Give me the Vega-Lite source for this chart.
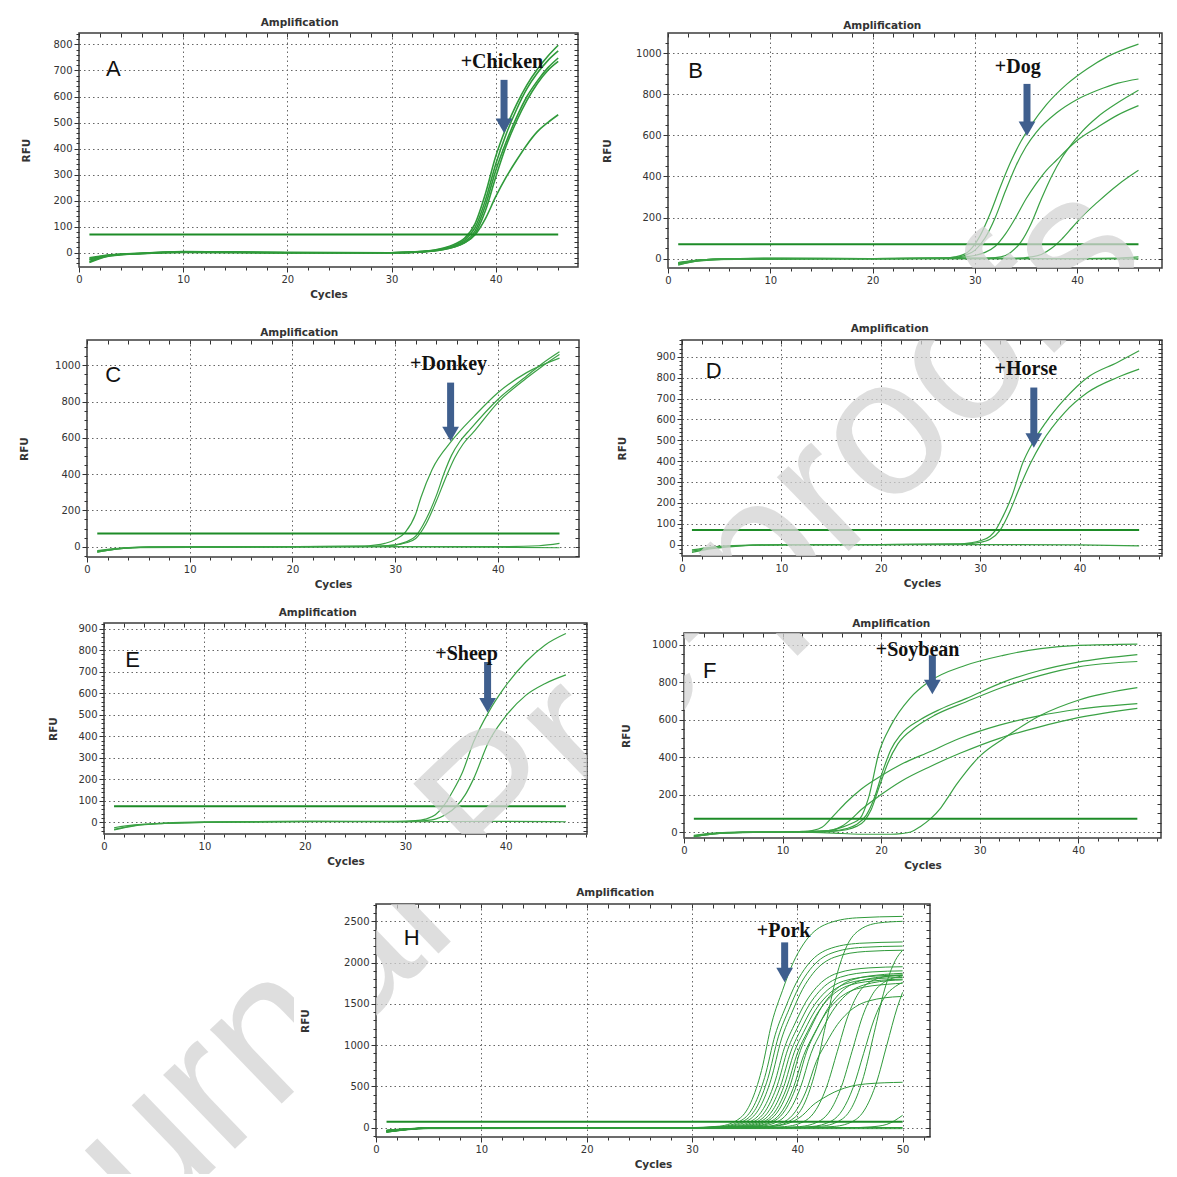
{
"$schema":"https://vega.github.io/schema/vega-lite/v6.json",
"padding":{"left":0,"top":16,"right":0,"bottom":0},
"background":"white",
"config":{
"view":{"stroke":"#3c3c3c","strokeWidth":1.5},
"axis":{"domain":false,"labelFont":"DejaVu Sans","labelFontSize":10,"labelColor":"#333","labelPadding":2,"titleFont":"DejaVu Sans","titleFontSize":10.5,"titleFontWeight":"bold","titleColor":"#333","tickColor":"#333","gridColor":"#666","gridDash":[1.5,3],"gridWidth":1,"labelOverlap":false,"labelFlush":false,"labelBound":false},
"axisY":{"minExtent":34,"maxExtent":34},
"axisX":{"titlePadding":5},
"title":{"font":"DejaVu Sans","fontSize":10.5,"fontWeight":"bold","color":"#333","offset":1,"frame":"bounds"}
},
"datasets":{
"A":[
{"c":"t","k":"t","x":1,"y":70},{"c":"t","k":"t","x":46,"y":70},
{"c":"a1","k":"s","x":1,"y":-35},{"c":"a1","k":"s","x":2,"y":-20},{"c":"a1","k":"s","x":4,"y":-8},{"c":"a1","k":"s","x":7,"y":-2},{"c":"a1","k":"s","x":10,"y":4},{"c":"a1","k":"s","x":15,"y":2},{"c":"a1","k":"s","x":20,"y":0},{"c":"a1","k":"s","x":25,"y":0},{"c":"a1","k":"s","x":30,"y":0},{"c":"a1","k":"s","x":33,"y":5},{"c":"a1","k":"s","x":35,"y":18},{"c":"a1","k":"s","x":36,"y":32},{"c":"a1","k":"s","x":37,"y":55},{"c":"a1","k":"s","x":38,"y":110},{"c":"a1","k":"s","x":39,"y":225},{"c":"a1","k":"s","x":40,"y":370},{"c":"a1","k":"s","x":41,"y":480},{"c":"a1","k":"s","x":42,"y":570},{"c":"a1","k":"s","x":43,"y":645},{"c":"a1","k":"s","x":44,"y":705},{"c":"a1","k":"s","x":45,"y":755},{"c":"a1","k":"s","x":46,"y":797},
{"c":"a2","k":"s","x":1,"y":-25},{"c":"a2","k":"s","x":2,"y":-15},{"c":"a2","k":"s","x":4,"y":-6},{"c":"a2","k":"s","x":7,"y":-1},{"c":"a2","k":"s","x":10,"y":3},{"c":"a2","k":"s","x":20,"y":1},{"c":"a2","k":"s","x":30,"y":0},{"c":"a2","k":"s","x":33,"y":4},{"c":"a2","k":"s","x":35,"y":16},{"c":"a2","k":"s","x":36,"y":28},{"c":"a2","k":"s","x":37,"y":48},{"c":"a2","k":"s","x":38,"y":95},{"c":"a2","k":"s","x":39,"y":200},{"c":"a2","k":"s","x":40,"y":340},{"c":"a2","k":"s","x":41,"y":455},{"c":"a2","k":"s","x":42,"y":550},{"c":"a2","k":"s","x":43,"y":630},{"c":"a2","k":"s","x":44,"y":690},{"c":"a2","k":"s","x":45,"y":738},{"c":"a2","k":"s","x":46,"y":775},
{"c":"a3","k":"s","x":1,"y":-20},{"c":"a3","k":"s","x":3,"y":-8},{"c":"a3","k":"s","x":6,"y":-2},{"c":"a3","k":"s","x":10,"y":2},{"c":"a3","k":"s","x":20,"y":0},{"c":"a3","k":"s","x":30,"y":0},{"c":"a3","k":"s","x":33,"y":4},{"c":"a3","k":"s","x":35,"y":14},{"c":"a3","k":"s","x":36,"y":25},{"c":"a3","k":"s","x":37,"y":42},{"c":"a3","k":"s","x":38,"y":82},{"c":"a3","k":"s","x":39,"y":180},{"c":"a3","k":"s","x":40,"y":315},{"c":"a3","k":"s","x":41,"y":425},{"c":"a3","k":"s","x":42,"y":520},{"c":"a3","k":"s","x":43,"y":600},{"c":"a3","k":"s","x":44,"y":660},{"c":"a3","k":"s","x":45,"y":710},{"c":"a3","k":"s","x":46,"y":748},
{"c":"a4","k":"s","x":1,"y":-28},{"c":"a4","k":"s","x":3,"y":-10},{"c":"a4","k":"s","x":6,"y":-3},{"c":"a4","k":"s","x":10,"y":1},{"c":"a4","k":"s","x":20,"y":0},{"c":"a4","k":"s","x":30,"y":-1},{"c":"a4","k":"s","x":33,"y":3},{"c":"a4","k":"s","x":35,"y":12},{"c":"a4","k":"s","x":36,"y":22},{"c":"a4","k":"s","x":37,"y":38},{"c":"a4","k":"s","x":38,"y":72},{"c":"a4","k":"s","x":39,"y":160},{"c":"a4","k":"s","x":40,"y":290},{"c":"a4","k":"s","x":41,"y":410},{"c":"a4","k":"s","x":42,"y":505},{"c":"a4","k":"s","x":43,"y":585},{"c":"a4","k":"s","x":44,"y":650},{"c":"a4","k":"s","x":45,"y":700},{"c":"a4","k":"s","x":46,"y":735},
{"c":"a5","k":"s","x":1,"y":-38},{"c":"a5","k":"s","x":3,"y":-12},{"c":"a5","k":"s","x":6,"y":-3},{"c":"a5","k":"s","x":10,"y":2},{"c":"a5","k":"s","x":20,"y":0},{"c":"a5","k":"s","x":30,"y":0},{"c":"a5","k":"s","x":33,"y":3},{"c":"a5","k":"s","x":35,"y":12},{"c":"a5","k":"s","x":36,"y":22},{"c":"a5","k":"s","x":37,"y":38},{"c":"a5","k":"s","x":38,"y":68},{"c":"a5","k":"s","x":39,"y":130},{"c":"a5","k":"s","x":40,"y":215},{"c":"a5","k":"s","x":41,"y":290},{"c":"a5","k":"s","x":42,"y":355},{"c":"a5","k":"s","x":43,"y":415},{"c":"a5","k":"s","x":44,"y":465},{"c":"a5","k":"s","x":45,"y":500},{"c":"a5","k":"s","x":46,"y":530},
{"k":"L","x":3.3,"y":707,"t":"A"},{"k":"S","x":40.6,"y":732,"t":"+Chicken"},{"k":"R","x":40.8,"y":664,"y2":507},{"k":"T","x":40.8,"y":488},{"k":"W","x":43.48,"y":-2003,"t":"Journal Pre-proofs"}
],
"B":[
{"c":"t","k":"t","x":1,"y":70},{"c":"t","k":"t","x":46,"y":70},
{"c":"b1","k":"s","x":1,"y":-25},{"c":"b1","k":"s","x":3,"y":-10},{"c":"b1","k":"s","x":6,"y":-3},{"c":"b1","k":"s","x":10,"y":2},{"c":"b1","k":"s","x":20,"y":0},{"c":"b1","k":"s","x":27,"y":2},{"c":"b1","k":"s","x":28,"y":8},{"c":"b1","k":"s","x":29,"y":22},{"c":"b1","k":"s","x":29.5,"y":40},{"c":"b1","k":"s","x":30.5,"y":110},{"c":"b1","k":"s","x":31.5,"y":220},{"c":"b1","k":"s","x":32.5,"y":350},{"c":"b1","k":"s","x":33.5,"y":470},{"c":"b1","k":"s","x":34.5,"y":570},{"c":"b1","k":"s","x":35.5,"y":650},{"c":"b1","k":"s","x":37,"y":750},{"c":"b1","k":"s","x":39,"y":850},{"c":"b1","k":"s","x":41,"y":925},{"c":"b1","k":"s","x":43,"y":985},{"c":"b1","k":"s","x":46,"y":1045},
{"c":"b2","k":"s","x":1,"y":-30},{"c":"b2","k":"s","x":3,"y":-12},{"c":"b2","k":"s","x":6,"y":-3},{"c":"b2","k":"s","x":10,"y":1},{"c":"b2","k":"s","x":20,"y":0},{"c":"b2","k":"s","x":27,"y":2},{"c":"b2","k":"s","x":28,"y":5},{"c":"b2","k":"s","x":29,"y":15},{"c":"b2","k":"s","x":30,"y":40},{"c":"b2","k":"s","x":31,"y":100},{"c":"b2","k":"s","x":32,"y":200},{"c":"b2","k":"s","x":33,"y":330},{"c":"b2","k":"s","x":34,"y":450},{"c":"b2","k":"s","x":35,"y":545},{"c":"b2","k":"s","x":36,"y":615},{"c":"b2","k":"s","x":38,"y":710},{"c":"b2","k":"s","x":40,"y":775},{"c":"b2","k":"s","x":42,"y":820},{"c":"b2","k":"s","x":44,"y":855},{"c":"b2","k":"s","x":46,"y":875},
{"c":"b3","k":"s","x":1,"y":-20},{"c":"b3","k":"s","x":3,"y":-8},{"c":"b3","k":"s","x":6,"y":-2},{"c":"b3","k":"s","x":20,"y":0},{"c":"b3","k":"s","x":28,"y":3},{"c":"b3","k":"s","x":29,"y":8},{"c":"b3","k":"s","x":30,"y":15},{"c":"b3","k":"s","x":31,"y":30},{"c":"b3","k":"s","x":32,"y":60},{"c":"b3","k":"s","x":33,"y":120},{"c":"b3","k":"s","x":34,"y":200},{"c":"b3","k":"s","x":35,"y":290},{"c":"b3","k":"s","x":36,"y":365},{"c":"b3","k":"s","x":37,"y":430},{"c":"b3","k":"s","x":38,"y":480},{"c":"b3","k":"s","x":39,"y":530},{"c":"b3","k":"s","x":40,"y":575},{"c":"b3","k":"s","x":42,"y":640},{"c":"b3","k":"s","x":44,"y":700},{"c":"b3","k":"s","x":46,"y":745},
{"c":"b4","k":"s","x":1,"y":-25},{"c":"b4","k":"s","x":3,"y":-8},{"c":"b4","k":"s","x":6,"y":-2},{"c":"b4","k":"s","x":20,"y":0},{"c":"b4","k":"s","x":30,"y":2},{"c":"b4","k":"s","x":32,"y":5},{"c":"b4","k":"s","x":33,"y":15},{"c":"b4","k":"s","x":33.5,"y":30},{"c":"b4","k":"s","x":34.5,"y":80},{"c":"b4","k":"s","x":35.5,"y":170},{"c":"b4","k":"s","x":36.5,"y":290},{"c":"b4","k":"s","x":37.5,"y":400},{"c":"b4","k":"s","x":38.5,"y":490},{"c":"b4","k":"s","x":39.5,"y":560},{"c":"b4","k":"s","x":40.5,"y":620},{"c":"b4","k":"s","x":42,"y":690},{"c":"b4","k":"s","x":44,"y":760},{"c":"b4","k":"s","x":46,"y":820},
{"c":"b5","k":"s","x":1,"y":-25},{"c":"b5","k":"s","x":3,"y":-8},{"c":"b5","k":"s","x":6,"y":-2},{"c":"b5","k":"s","x":20,"y":0},{"c":"b5","k":"s","x":34,"y":2},{"c":"b5","k":"s","x":35.5,"y":8},{"c":"b5","k":"s","x":36.5,"y":20},{"c":"b5","k":"s","x":37.5,"y":50},{"c":"b5","k":"s","x":38.5,"y":95},{"c":"b5","k":"s","x":39.5,"y":150},{"c":"b5","k":"s","x":40.5,"y":205},{"c":"b5","k":"s","x":42,"y":275},{"c":"b5","k":"s","x":44,"y":360},{"c":"b5","k":"s","x":46,"y":430},
{"c":"bn1","k":"s","x":1,"y":-32},{"c":"bn1","k":"s","x":3,"y":-12},{"c":"bn1","k":"s","x":6,"y":-3},{"c":"bn1","k":"s","x":15,"y":0},{"c":"bn1","k":"s","x":30,"y":0},{"c":"bn1","k":"s","x":40,"y":0},{"c":"bn1","k":"s","x":44,"y":2},{"c":"bn1","k":"s","x":46,"y":8},
{"c":"bn2","k":"s","x":1,"y":-20},{"c":"bn2","k":"s","x":4,"y":-5},{"c":"bn2","k":"s","x":25,"y":0},{"c":"bn2","k":"s","x":46,"y":-2},
{"k":"L","x":2.7,"y":914,"t":"B"},{"k":"S","x":34.2,"y":932,"t":"+Dog"},{"k":"R","x":35.1,"y":851,"y2":658},{"k":"T","x":35.1,"y":632},{"k":"W","x":-13.2,"y":-2511,"t":"Journal Pre-proofs"}
],
"C":[
{"c":"t","k":"t","x":1,"y":73},{"c":"t","k":"t","x":46,"y":73},
{"c":"c1","k":"s","x":1,"y":-28},{"c":"c1","k":"s","x":3,"y":-12},{"c":"c1","k":"s","x":6,"y":-3},{"c":"c1","k":"s","x":10,"y":0},{"c":"c1","k":"s","x":20,"y":0},{"c":"c1","k":"s","x":27,"y":3},{"c":"c1","k":"s","x":28,"y":8},{"c":"c1","k":"s","x":29,"y":18},{"c":"c1","k":"s","x":30,"y":38},{"c":"c1","k":"s","x":31,"y":80},{"c":"c1","k":"s","x":32,"y":180},{"c":"c1","k":"s","x":32.5,"y":270},{"c":"c1","k":"s","x":33.6,"y":426},{"c":"c1","k":"s","x":35.5,"y":583},{"c":"c1","k":"s","x":37.7,"y":720},{"c":"c1","k":"s","x":40,"y":849},{"c":"c1","k":"s","x":42.8,"y":960},{"c":"c1","k":"s","x":46,"y":1040},
{"c":"c2","k":"s","x":1,"y":-30},{"c":"c2","k":"s","x":3,"y":-12},{"c":"c2","k":"s","x":6,"y":-3},{"c":"c2","k":"s","x":20,"y":0},{"c":"c2","k":"s","x":28,"y":2},{"c":"c2","k":"s","x":30,"y":10},{"c":"c2","k":"s","x":31,"y":25},{"c":"c2","k":"s","x":32,"y":58},{"c":"c2","k":"s","x":33,"y":150},{"c":"c2","k":"s","x":34,"y":280},{"c":"c2","k":"s","x":34.8,"y":410},{"c":"c2","k":"s","x":35.5,"y":505},{"c":"c2","k":"s","x":36.3,"y":580},{"c":"c2","k":"s","x":37.3,"y":647},{"c":"c2","k":"s","x":40,"y":812},{"c":"c2","k":"s","x":42.8,"y":941},{"c":"c2","k":"s","x":44.2,"y":1005},{"c":"c2","k":"s","x":46,"y":1075},
{"c":"c3","k":"s","x":1,"y":-22},{"c":"c3","k":"s","x":3,"y":-9},{"c":"c3","k":"s","x":6,"y":-2},{"c":"c3","k":"s","x":20,"y":0},{"c":"c3","k":"s","x":28,"y":2},{"c":"c3","k":"s","x":30,"y":8},{"c":"c3","k":"s","x":31,"y":20},{"c":"c3","k":"s","x":32,"y":45},{"c":"c3","k":"s","x":33,"y":125},{"c":"c3","k":"s","x":34,"y":250},{"c":"c3","k":"s","x":35,"y":390},{"c":"c3","k":"s","x":35.8,"y":490},{"c":"c3","k":"s","x":36.6,"y":565},{"c":"c3","k":"s","x":37.6,"y":630},{"c":"c3","k":"s","x":40,"y":795},{"c":"c3","k":"s","x":42.8,"y":930},{"c":"c3","k":"s","x":44.2,"y":990},{"c":"c3","k":"s","x":46,"y":1060},
{"c":"cn1","k":"s","x":1,"y":-30},{"c":"cn1","k":"s","x":3,"y":-12},{"c":"cn1","k":"s","x":6,"y":-3},{"c":"cn1","k":"s","x":20,"y":0},{"c":"cn1","k":"s","x":40,"y":0},{"c":"cn1","k":"s","x":44,"y":5},{"c":"cn1","k":"s","x":46,"y":18},
{"c":"cn2","k":"s","x":1,"y":-25},{"c":"cn2","k":"s","x":4,"y":-6},{"c":"cn2","k":"s","x":30,"y":0},{"c":"cn2","k":"s","x":40,"y":-3},{"c":"cn2","k":"s","x":46,"y":-6},
{"k":"L","x":2.56,"y":945,"t":"C"},{"k":"S","x":35.2,"y":1009,"t":"+Donkey"},{"k":"R","x":35.4,"y":905,"y2":647},{"k":"T","x":35.4,"y":622},{"k":"W","x":43.33,"y":-1254,"t":"Journal Pre-proofs"}
],
"D":[
{"c":"t","k":"t","x":1,"y":70},{"c":"t","k":"t","x":46,"y":70},
{"c":"d1","k":"s","x":1,"y":-32},{"c":"d1","k":"s","x":3,"y":-16},{"c":"d1","k":"s","x":6,"y":-5},{"c":"d1","k":"s","x":10,"y":0},{"c":"d1","k":"s","x":20,"y":0},{"c":"d1","k":"s","x":28,"y":3},{"c":"d1","k":"s","x":29,"y":8},{"c":"d1","k":"s","x":30,"y":18},{"c":"d1","k":"s","x":31,"y":40},{"c":"d1","k":"s","x":31.5,"y":65},{"c":"d1","k":"s","x":32.3,"y":135},{"c":"d1","k":"s","x":33.2,"y":233},{"c":"d1","k":"s","x":34.3,"y":393},{"c":"d1","k":"s","x":35.3,"y":489},{"c":"d1","k":"s","x":36.6,"y":585},{"c":"d1","k":"s","x":38.5,"y":697},{"c":"d1","k":"s","x":40.8,"y":801},{"c":"d1","k":"s","x":43.8,"y":873},{"c":"d1","k":"s","x":46,"y":929},
{"c":"d2","k":"s","x":1,"y":-26},{"c":"d2","k":"s","x":3,"y":-12},{"c":"d2","k":"s","x":6,"y":-4},{"c":"d2","k":"s","x":20,"y":0},{"c":"d2","k":"s","x":28,"y":2},{"c":"d2","k":"s","x":30,"y":10},{"c":"d2","k":"s","x":31,"y":25},{"c":"d2","k":"s","x":32,"y":68},{"c":"d2","k":"s","x":33,"y":160},{"c":"d2","k":"s","x":33.9,"y":265},{"c":"d2","k":"s","x":35.1,"y":393},{"c":"d2","k":"s","x":36.2,"y":489},{"c":"d2","k":"s","x":38.5,"y":633},{"c":"d2","k":"s","x":40.8,"y":729},{"c":"d2","k":"s","x":43.8,"y":801},{"c":"d2","k":"s","x":46,"y":841},
{"c":"dn1","k":"s","x":1,"y":-38},{"c":"dn1","k":"s","x":3,"y":-20},{"c":"dn1","k":"s","x":6,"y":-6},{"c":"dn1","k":"s","x":10,"y":-1},{"c":"dn1","k":"s","x":30,"y":0},{"c":"dn1","k":"s","x":40,"y":-2},{"c":"dn1","k":"s","x":46,"y":-6},
{"k":"L","x":3.2,"y":833,"t":"D"},{"k":"S","x":34.6,"y":841,"t":"+Horse"},{"k":"R","x":35.4,"y":753,"y2":519},{"k":"T","x":35.4,"y":499},{"k":"W","x":-14.99,"y":-1101,"t":"Journal Pre-proofs"}
],
"E":[
{"c":"t","k":"t","x":1,"y":75},{"c":"t","k":"t","x":46,"y":75},
{"c":"e1","k":"s","x":1,"y":-25},{"c":"e1","k":"s","x":3,"y":-12},{"c":"e1","k":"s","x":6,"y":-3},{"c":"e1","k":"s","x":10,"y":2},{"c":"e1","k":"s","x":20,"y":5},{"c":"e1","k":"s","x":29,"y":5},{"c":"e1","k":"s","x":31,"y":8},{"c":"e1","k":"s","x":32,"y":15},{"c":"e1","k":"s","x":33,"y":35},{"c":"e1","k":"s","x":33.8,"y":75},{"c":"e1","k":"s","x":34.8,"y":150},{"c":"e1","k":"s","x":35.7,"y":233},{"c":"e1","k":"s","x":36.8,"y":373},{"c":"e1","k":"s","x":38.3,"y":512},{"c":"e1","k":"s","x":39.8,"y":621},{"c":"e1","k":"s","x":42,"y":745},{"c":"e1","k":"s","x":43.9,"y":823},{"c":"e1","k":"s","x":46,"y":877},
{"c":"e2","k":"s","x":1,"y":-32},{"c":"e2","k":"s","x":3,"y":-15},{"c":"e2","k":"s","x":6,"y":-5},{"c":"e2","k":"s","x":10,"y":0},{"c":"e2","k":"s","x":20,"y":3},{"c":"e2","k":"s","x":30,"y":3},{"c":"e2","k":"s","x":32,"y":8},{"c":"e2","k":"s","x":33,"y":15},{"c":"e2","k":"s","x":34,"y":35},{"c":"e2","k":"s","x":35.1,"y":75},{"c":"e2","k":"s","x":36,"y":130},{"c":"e2","k":"s","x":36.8,"y":202},{"c":"e2","k":"s","x":38.3,"y":373},{"c":"e2","k":"s","x":39.8,"y":481},{"c":"e2","k":"s","x":42,"y":590},{"c":"e2","k":"s","x":43.9,"y":644},{"c":"e2","k":"s","x":46,"y":685},
{"c":"en1","k":"s","x":1,"y":-35},{"c":"en1","k":"s","x":3,"y":-16},{"c":"en1","k":"s","x":6,"y":-5},{"c":"en1","k":"s","x":10,"y":0},{"c":"en1","k":"s","x":20,"y":5},{"c":"en1","k":"s","x":30,"y":3},{"c":"en1","k":"s","x":40,"y":5},{"c":"en1","k":"s","x":46,"y":3},
{"k":"L","x":2.85,"y":756,"t":"E"},{"k":"S","x":36.1,"y":783,"t":"+Sheep"},{"k":"R","x":38.2,"y":745,"y2":565},{"k":"T","x":38.2,"y":544},{"k":"W","x":42.62,"y":225,"t":"Journal Pre-proofs"}
],
"F":[
{"c":"t","k":"t","x":1,"y":71},{"c":"t","k":"t","x":46,"y":71},
{"c":"f1","k":"s","x":1,"y":-20},{"c":"f1","k":"s","x":3,"y":-8},{"c":"f1","k":"s","x":6,"y":0},{"c":"f1","k":"s","x":10,"y":0},{"c":"f1","k":"s","x":13,"y":3},{"c":"f1","k":"s","x":15,"y":10},{"c":"f1","k":"s","x":16,"y":25},{"c":"f1","k":"s","x":17,"y":45},{"c":"f1","k":"s","x":17.9,"y":75},{"c":"f1","k":"s","x":18.7,"y":178},{"c":"f1","k":"s","x":19.8,"y":427},{"c":"f1","k":"s","x":21,"y":569},{"c":"f1","k":"s","x":22.9,"y":712},{"c":"f1","k":"s","x":24.8,"y":800},{"c":"f1","k":"s","x":28.6,"y":890},{"c":"f1","k":"s","x":32.4,"y":943},{"c":"f1","k":"s","x":36.2,"y":979},{"c":"f1","k":"s","x":40,"y":996},{"c":"f1","k":"s","x":46,"y":1003},
{"c":"f2","k":"s","x":1,"y":-25},{"c":"f2","k":"s","x":3,"y":-10},{"c":"f2","k":"s","x":6,"y":-2},{"c":"f2","k":"s","x":12,"y":0},{"c":"f2","k":"s","x":15,"y":5},{"c":"f2","k":"s","x":16.5,"y":18},{"c":"f2","k":"s","x":17.5,"y":40},{"c":"f2","k":"s","x":18.5,"y":90},{"c":"f2","k":"s","x":19.3,"y":180},{"c":"f2","k":"s","x":20.2,"y":330},{"c":"f2","k":"s","x":21,"y":440},{"c":"f2","k":"s","x":22,"y":520},{"c":"f2","k":"s","x":24,"y":600},{"c":"f2","k":"s","x":26,"y":655},{"c":"f2","k":"s","x":28.6,"y":712},{"c":"f2","k":"s","x":32.4,"y":800},{"c":"f2","k":"s","x":36.2,"y":863},{"c":"f2","k":"s","x":40,"y":907},{"c":"f2","k":"s","x":46,"y":947},
{"c":"f3","k":"s","x":1,"y":-18},{"c":"f3","k":"s","x":3,"y":-6},{"c":"f3","k":"s","x":6,"y":-1},{"c":"f3","k":"s","x":12,"y":0},{"c":"f3","k":"s","x":15,"y":3},{"c":"f3","k":"s","x":16.5,"y":12},{"c":"f3","k":"s","x":17.5,"y":30},{"c":"f3","k":"s","x":18.3,"y":60},{"c":"f3","k":"s","x":19,"y":120},{"c":"f3","k":"s","x":19.8,"y":240},{"c":"f3","k":"s","x":20.7,"y":370},{"c":"f3","k":"s","x":21.7,"y":470},{"c":"f3","k":"s","x":23.5,"y":560},{"c":"f3","k":"s","x":25.5,"y":625},{"c":"f3","k":"s","x":28.6,"y":694},{"c":"f3","k":"s","x":32.4,"y":774},{"c":"f3","k":"s","x":36.2,"y":836},{"c":"f3","k":"s","x":40,"y":881},{"c":"f3","k":"s","x":46,"y":910},
{"c":"f4","k":"s","x":1,"y":-25},{"c":"f4","k":"s","x":3,"y":-10},{"c":"f4","k":"s","x":6,"y":-2},{"c":"f4","k":"s","x":10,"y":0},{"c":"f4","k":"s","x":12,"y":3},{"c":"f4","k":"s","x":13,"y":8},{"c":"f4","k":"s","x":14,"y":25},{"c":"f4","k":"s","x":14.9,"y":71},{"c":"f4","k":"s","x":15.5,"y":105},{"c":"f4","k":"s","x":16.5,"y":160},{"c":"f4","k":"s","x":18,"y":230},{"c":"f4","k":"s","x":20,"y":300},{"c":"f4","k":"s","x":22,"y":360},{"c":"f4","k":"s","x":25,"y":430},{"c":"f4","k":"s","x":28,"y":500},{"c":"f4","k":"s","x":32,"y":570},{"c":"f4","k":"s","x":36,"y":620},{"c":"f4","k":"s","x":40,"y":655},{"c":"f4","k":"s","x":46,"y":685},
{"c":"f5","k":"s","x":1,"y":-20},{"c":"f5","k":"s","x":3,"y":-8},{"c":"f5","k":"s","x":6,"y":-2},{"c":"f5","k":"s","x":10,"y":0},{"c":"f5","k":"s","x":13,"y":3},{"c":"f5","k":"s","x":15,"y":10},{"c":"f5","k":"s","x":16,"y":30},{"c":"f5","k":"s","x":17,"y":70},{"c":"f5","k":"s","x":18,"y":120},{"c":"f5","k":"s","x":20,"y":200},{"c":"f5","k":"s","x":22,"y":270},{"c":"f5","k":"s","x":25,"y":350},{"c":"f5","k":"s","x":28,"y":420},{"c":"f5","k":"s","x":32,"y":500},{"c":"f5","k":"s","x":36,"y":560},{"c":"f5","k":"s","x":40,"y":610},{"c":"f5","k":"s","x":46,"y":660},
{"c":"f6","k":"s","x":1,"y":-25},{"c":"f6","k":"s","x":3,"y":-10},{"c":"f6","k":"s","x":6,"y":-3},{"c":"f6","k":"s","x":10,"y":0},{"c":"f6","k":"s","x":14,"y":-3},{"c":"f6","k":"s","x":16,"y":-8},{"c":"f6","k":"s","x":18,"y":-12},{"c":"f6","k":"s","x":21,"y":-12},{"c":"f6","k":"s","x":22,"y":-9},{"c":"f6","k":"s","x":23,"y":0},{"c":"f6","k":"s","x":24,"y":30},{"c":"f6","k":"s","x":25,"y":70},{"c":"f6","k":"s","x":26,"y":125},{"c":"f6","k":"s","x":26.7,"y":178},{"c":"f6","k":"s","x":27.6,"y":250},{"c":"f6","k":"s","x":28.6,"y":320},{"c":"f6","k":"s","x":30.1,"y":409},{"c":"f6","k":"s","x":32.4,"y":498},{"c":"f6","k":"s","x":36.2,"y":623},{"c":"f6","k":"s","x":40,"y":703},{"c":"f6","k":"s","x":46,"y":770},
{"k":"L","x":2.6,"y":857,"t":"F"},{"k":"S","x":23.7,"y":970,"t":"+Soybean"},{"k":"R","x":25.2,"y":943,"y2":797},{"k":"T","x":25.2,"y":774},{"k":"W","x":-15.42,"y":310,"t":"Journal Pre-proofs"}
],
"H":[
{"c":"t","k":"t","x":1,"y":72},{"c":"t","k":"t","x":50,"y":72},
{"c":"h1","k":"s","x":1,"y":-50},{"c":"h1","k":"s","x":5,"y":-8},{"c":"h1","k":"s","x":29.6,"y":0},{"c":"h1","k":"s","x":32.6,"y":18},{"c":"h1","k":"s","x":34.6,"y":120},{"c":"h1","k":"s","x":35.6,"y":307},{"c":"h1","k":"s","x":36.6,"y":691},{"c":"h1","k":"s","x":37.6,"y":1280},{"c":"h1","k":"s","x":38.6,"y":1664},{"c":"h1","k":"s","x":39.6,"y":1997},{"c":"h1","k":"s","x":40.6,"y":2227},{"c":"h1","k":"s","x":42.6,"y":2458},{"c":"h1","k":"s","x":45.6,"y":2542},{"c":"h1","k":"s","x":50,"y":2560},
{"c":"h2","k":"s","x":1,"y":-45},{"c":"h2","k":"s","x":5,"y":-6},{"c":"h2","k":"s","x":29.9,"y":0},{"c":"h2","k":"s","x":32.9,"y":16},{"c":"h2","k":"s","x":34.9,"y":106},{"c":"h2","k":"s","x":35.9,"y":270},{"c":"h2","k":"s","x":36.9,"y":608},{"c":"h2","k":"s","x":37.9,"y":1125},{"c":"h2","k":"s","x":38.9,"y":1463},{"c":"h2","k":"s","x":39.9,"y":1755},{"c":"h2","k":"s","x":40.9,"y":1958},{"c":"h2","k":"s","x":42.9,"y":2160},{"c":"h2","k":"s","x":45.9,"y":2234},{"c":"h2","k":"s","x":50,"y":2250},
{"c":"h3","k":"s","x":1,"y":-40},{"c":"h3","k":"s","x":5,"y":-6},{"c":"h3","k":"s","x":30.2,"y":0},{"c":"h3","k":"s","x":33.2,"y":15},{"c":"h3","k":"s","x":35.2,"y":103},{"c":"h3","k":"s","x":36.2,"y":264},{"c":"h3","k":"s","x":37.2,"y":594},{"c":"h3","k":"s","x":38.2,"y":1100},{"c":"h3","k":"s","x":39.2,"y":1430},{"c":"h3","k":"s","x":40.2,"y":1716},{"c":"h3","k":"s","x":41.2,"y":1914},{"c":"h3","k":"s","x":43.2,"y":2112},{"c":"h3","k":"s","x":46.2,"y":2185},{"c":"h3","k":"s","x":50,"y":2200},
{"c":"h4","k":"s","x":1,"y":-55},{"c":"h4","k":"s","x":5,"y":-8},{"c":"h4","k":"s","x":30.5,"y":0},{"c":"h4","k":"s","x":33.5,"y":15},{"c":"h4","k":"s","x":35.5,"y":101},{"c":"h4","k":"s","x":36.5,"y":258},{"c":"h4","k":"s","x":37.5,"y":581},{"c":"h4","k":"s","x":38.5,"y":1075},{"c":"h4","k":"s","x":39.5,"y":1398},{"c":"h4","k":"s","x":40.5,"y":1677},{"c":"h4","k":"s","x":41.5,"y":1871},{"c":"h4","k":"s","x":43.5,"y":2064},{"c":"h4","k":"s","x":46.5,"y":2135},{"c":"h4","k":"s","x":50,"y":2150},
{"c":"h5","k":"s","x":1,"y":-35},{"c":"h5","k":"s","x":5,"y":-5},{"c":"h5","k":"s","x":30.8,"y":0},{"c":"h5","k":"s","x":33.8,"y":14},{"c":"h5","k":"s","x":35.8,"y":92},{"c":"h5","k":"s","x":36.8,"y":234},{"c":"h5","k":"s","x":37.8,"y":527},{"c":"h5","k":"s","x":38.8,"y":975},{"c":"h5","k":"s","x":39.8,"y":1268},{"c":"h5","k":"s","x":40.8,"y":1521},{"c":"h5","k":"s","x":41.8,"y":1697},{"c":"h5","k":"s","x":43.8,"y":1872},{"c":"h5","k":"s","x":46.8,"y":1936},{"c":"h5","k":"s","x":50,"y":1950},
{"c":"h6","k":"s","x":1,"y":-45},{"c":"h6","k":"s","x":5,"y":-6},{"c":"h6","k":"s","x":31.1,"y":0},{"c":"h6","k":"s","x":34.1,"y":13},{"c":"h6","k":"s","x":36.1,"y":89},{"c":"h6","k":"s","x":37.1,"y":228},{"c":"h6","k":"s","x":38.1,"y":513},{"c":"h6","k":"s","x":39.1,"y":950},{"c":"h6","k":"s","x":40.1,"y":1235},{"c":"h6","k":"s","x":41.1,"y":1482},{"c":"h6","k":"s","x":42.1,"y":1653},{"c":"h6","k":"s","x":44.1,"y":1824},{"c":"h6","k":"s","x":47.1,"y":1887},{"c":"h6","k":"s","x":50,"y":1900},
{"c":"h7","k":"s","x":1,"y":-50},{"c":"h7","k":"s","x":5,"y":-7},{"c":"h7","k":"s","x":31.4,"y":0},{"c":"h7","k":"s","x":34.4,"y":13},{"c":"h7","k":"s","x":36.4,"y":87},{"c":"h7","k":"s","x":37.4,"y":222},{"c":"h7","k":"s","x":38.4,"y":500},{"c":"h7","k":"s","x":39.4,"y":925},{"c":"h7","k":"s","x":40.4,"y":1203},{"c":"h7","k":"s","x":41.4,"y":1443},{"c":"h7","k":"s","x":42.4,"y":1610},{"c":"h7","k":"s","x":44.4,"y":1776},{"c":"h7","k":"s","x":47.4,"y":1837},{"c":"h7","k":"s","x":50,"y":1850},
{"c":"h8","k":"s","x":1,"y":-40},{"c":"h8","k":"s","x":5,"y":-5},{"c":"h8","k":"s","x":31.7,"y":0},{"c":"h8","k":"s","x":34.7,"y":13},{"c":"h8","k":"s","x":36.7,"y":86},{"c":"h8","k":"s","x":37.7,"y":218},{"c":"h8","k":"s","x":38.7,"y":491},{"c":"h8","k":"s","x":39.7,"y":910},{"c":"h8","k":"s","x":40.7,"y":1183},{"c":"h8","k":"s","x":41.7,"y":1420},{"c":"h8","k":"s","x":42.7,"y":1583},{"c":"h8","k":"s","x":44.7,"y":1747},{"c":"h8","k":"s","x":47.7,"y":1807},{"c":"h8","k":"s","x":50,"y":1820},
{"c":"h9","k":"s","x":1,"y":-35},{"c":"h9","k":"s","x":5,"y":-5},{"c":"h9","k":"s","x":32,"y":0},{"c":"h9","k":"s","x":35,"y":13},{"c":"h9","k":"s","x":37,"y":85},{"c":"h9","k":"s","x":38,"y":216},{"c":"h9","k":"s","x":39,"y":486},{"c":"h9","k":"s","x":40,"y":900},{"c":"h9","k":"s","x":41,"y":1170},{"c":"h9","k":"s","x":42,"y":1404},{"c":"h9","k":"s","x":43,"y":1566},{"c":"h9","k":"s","x":45,"y":1728},{"c":"h9","k":"s","x":48,"y":1787},{"c":"h9","k":"s","x":50,"y":1800},
{"c":"h10","k":"s","x":1,"y":-45},{"c":"h10","k":"s","x":5,"y":-6},{"c":"h10","k":"s","x":32.3,"y":0},{"c":"h10","k":"s","x":35.3,"y":13},{"c":"h10","k":"s","x":37.3,"y":88},{"c":"h10","k":"s","x":38.3,"y":224},{"c":"h10","k":"s","x":39.3,"y":505},{"c":"h10","k":"s","x":40.3,"y":935},{"c":"h10","k":"s","x":41.3,"y":1216},{"c":"h10","k":"s","x":42.3,"y":1459},{"c":"h10","k":"s","x":43.3,"y":1627},{"c":"h10","k":"s","x":45.3,"y":1795},{"c":"h10","k":"s","x":48.3,"y":1857},{"c":"h10","k":"s","x":50,"y":1870},
{"c":"h11","k":"s","x":1,"y":-55},{"c":"h11","k":"s","x":5,"y":-8},{"c":"h11","k":"s","x":32.6,"y":0},{"c":"h11","k":"s","x":35.6,"y":12},{"c":"h11","k":"s","x":37.6,"y":82},{"c":"h11","k":"s","x":38.6,"y":210},{"c":"h11","k":"s","x":39.6,"y":473},{"c":"h11","k":"s","x":40.6,"y":875},{"c":"h11","k":"s","x":41.6,"y":1138},{"c":"h11","k":"s","x":42.6,"y":1365},{"c":"h11","k":"s","x":43.6,"y":1523},{"c":"h11","k":"s","x":45.6,"y":1680},{"c":"h11","k":"s","x":48.6,"y":1738},{"c":"h11","k":"s","x":50,"y":1750},
{"c":"h12","k":"s","x":1,"y":-40},{"c":"h12","k":"s","x":5,"y":-6},{"c":"h12","k":"s","x":32.9,"y":0},{"c":"h12","k":"s","x":35.9,"y":13},{"c":"h12","k":"s","x":37.9,"y":87},{"c":"h12","k":"s","x":38.9,"y":222},{"c":"h12","k":"s","x":39.9,"y":500},{"c":"h12","k":"s","x":40.9,"y":925},{"c":"h12","k":"s","x":41.9,"y":1203},{"c":"h12","k":"s","x":42.9,"y":1443},{"c":"h12","k":"s","x":43.9,"y":1610},{"c":"h12","k":"s","x":45.9,"y":1776},{"c":"h12","k":"s","x":48.9,"y":1837},{"c":"h12","k":"s","x":50,"y":1845},
{"c":"h13","k":"s","x":1,"y":-30},{"c":"h13","k":"s","x":5,"y":-4},{"c":"h13","k":"s","x":33.3,"y":0},{"c":"h13","k":"s","x":36.3,"y":13},{"c":"h13","k":"s","x":38.3,"y":85},{"c":"h13","k":"s","x":39.3,"y":216},{"c":"h13","k":"s","x":40.3,"y":486},{"c":"h13","k":"s","x":41.3,"y":900},{"c":"h13","k":"s","x":42.3,"y":1170},{"c":"h13","k":"s","x":43.3,"y":1404},{"c":"h13","k":"s","x":44.3,"y":1566},{"c":"h13","k":"s","x":46.3,"y":1728},{"c":"h13","k":"s","x":49.3,"y":1787},{"c":"h13","k":"s","x":50,"y":1790},
{"c":"h14","k":"s","x":1,"y":-45},{"c":"h14","k":"s","x":5,"y":-6},{"c":"h14","k":"s","x":33.8,"y":0},{"c":"h14","k":"s","x":36.8,"y":11},{"c":"h14","k":"s","x":38.8,"y":75},{"c":"h14","k":"s","x":39.8,"y":192},{"c":"h14","k":"s","x":40.8,"y":432},{"c":"h14","k":"s","x":41.8,"y":800},{"c":"h14","k":"s","x":42.8,"y":1040},{"c":"h14","k":"s","x":43.8,"y":1248},{"c":"h14","k":"s","x":44.8,"y":1392},{"c":"h14","k":"s","x":46.8,"y":1536},{"c":"h14","k":"s","x":49.8,"y":1589},{"c":"h14","k":"s","x":50,"y":1590},
{"c":"h15","k":"s","x":1,"y":-50},{"c":"h15","k":"s","x":5,"y":-7},{"c":"h15","k":"s","x":34.7,"y":0},{"c":"h15","k":"s","x":37.7,"y":18},{"c":"h15","k":"s","x":39.7,"y":118},{"c":"h15","k":"s","x":40.7,"y":300},{"c":"h15","k":"s","x":41.7,"y":675},{"c":"h15","k":"s","x":42.7,"y":1250},{"c":"h15","k":"s","x":43.7,"y":1825},{"c":"h15","k":"s","x":44.7,"y":2200},{"c":"h15","k":"s","x":45.7,"y":2375},{"c":"h15","k":"s","x":47.7,"y":2480},{"c":"h15","k":"s","x":50,"y":2500},
{"c":"h16","k":"s","x":1,"y":-35},{"c":"h16","k":"s","x":5,"y":-5},{"c":"h16","k":"s","x":35.8,"y":0},{"c":"h16","k":"s","x":38.8,"y":13},{"c":"h16","k":"s","x":40.8,"y":87},{"c":"h16","k":"s","x":41.8,"y":222},{"c":"h16","k":"s","x":42.8,"y":500},{"c":"h16","k":"s","x":43.8,"y":925},{"c":"h16","k":"s","x":44.8,"y":1350},{"c":"h16","k":"s","x":45.8,"y":1628},{"c":"h16","k":"s","x":46.8,"y":1758},{"c":"h16","k":"s","x":48.8,"y":1838},{"c":"h16","k":"s","x":50,"y":1848},
{"c":"h17","k":"s","x":1,"y":-45},{"c":"h17","k":"s","x":5,"y":-6},{"c":"h17","k":"s","x":37.2,"y":0},{"c":"h17","k":"s","x":40.2,"y":13},{"c":"h17","k":"s","x":42.2,"y":87},{"c":"h17","k":"s","x":43.2,"y":222},{"c":"h17","k":"s","x":44.2,"y":500},{"c":"h17","k":"s","x":45.2,"y":925},{"c":"h17","k":"s","x":46.2,"y":1350},{"c":"h17","k":"s","x":47.2,"y":1628},{"c":"h17","k":"s","x":48.2,"y":1758},{"c":"h17","k":"s","x":50,"y":1838},
{"c":"h18","k":"s","x":1,"y":-40},{"c":"h18","k":"s","x":5,"y":-5},{"c":"h18","k":"s","x":38.3,"y":0},{"c":"h18","k":"s","x":41.3,"y":13},{"c":"h18","k":"s","x":43.3,"y":85},{"c":"h18","k":"s","x":44.3,"y":216},{"c":"h18","k":"s","x":45.3,"y":486},{"c":"h18","k":"s","x":46.3,"y":900},{"c":"h18","k":"s","x":47.3,"y":1314},{"c":"h18","k":"s","x":48.3,"y":1584},{"c":"h18","k":"s","x":49.3,"y":1710},{"c":"h18","k":"s","x":50,"y":1760},
{"c":"h19","k":"s","x":1,"y":-50},{"c":"h19","k":"s","x":5,"y":-7},{"c":"h19","k":"s","x":39.3,"y":0},{"c":"h19","k":"s","x":42.3,"y":18},{"c":"h19","k":"s","x":44.3,"y":108},{"c":"h19","k":"s","x":45.3,"y":276},{"c":"h19","k":"s","x":46.3,"y":621},{"c":"h19","k":"s","x":47.3,"y":1150},{"c":"h19","k":"s","x":48.3,"y":1679},{"c":"h19","k":"s","x":49.3,"y":2024},{"c":"h19","k":"s","x":50,"y":2150},
{"c":"h20","k":"s","x":1,"y":-35},{"c":"h20","k":"s","x":5,"y":-5},{"c":"h20","k":"s","x":40.5,"y":0},{"c":"h20","k":"s","x":43.5,"y":15},{"c":"h20","k":"s","x":45.5,"y":94},{"c":"h20","k":"s","x":46.5,"y":240},{"c":"h20","k":"s","x":47.5,"y":540},{"c":"h20","k":"s","x":48.5,"y":1000},{"c":"h20","k":"s","x":49.5,"y":1460},{"c":"h20","k":"s","x":50,"y":1640},
{"c":"h21","k":"s","x":1,"y":-40},{"c":"h21","k":"s","x":5,"y":-6},{"c":"h21","k":"s","x":33.5,"y":0},{"c":"h21","k":"s","x":36.5,"y":5},{"c":"h21","k":"s","x":38.5,"y":30},{"c":"h21","k":"s","x":39.5,"y":70},{"c":"h21","k":"s","x":40.5,"y":150},{"c":"h21","k":"s","x":41.5,"y":275},{"c":"h21","k":"s","x":42.5,"y":360},{"c":"h21","k":"s","x":43.5,"y":430},{"c":"h21","k":"s","x":44.5,"y":480},{"c":"h21","k":"s","x":46.5,"y":530},{"c":"h21","k":"s","x":50,"y":550},
{"c":"h22","k":"s","x":1,"y":-45},{"c":"h22","k":"s","x":5,"y":-6},{"c":"h22","k":"s","x":30,"y":0},{"c":"h22","k":"s","x":45,"y":0},{"c":"h22","k":"s","x":47,"y":10},{"c":"h22","k":"s","x":48.5,"y":40},{"c":"h22","k":"s","x":50,"y":150},
{"c":"h23","k":"s","x":1,"y":-55},{"c":"h23","k":"s","x":5,"y":-12},{"c":"h23","k":"s","x":20,"y":-10},{"c":"h23","k":"s","x":50,"y":-12},
{"c":"h24","k":"s","x":1,"y":-30},{"c":"h24","k":"s","x":5,"y":-3},{"c":"h24","k":"s","x":50,"y":2},
{"k":"L","x":3.4,"y":2294,"t":"H"},{"k":"S","x":38.7,"y":2387,"t":"+Pork"},{"k":"R","x":38.8,"y":2245,"y2":1905},{"k":"T","x":38.8,"y":1851},{"k":"W","x":15.19,"y":4249,"t":"Journal Pre-proofs"}
]
},
"vconcat":[
{"vconcat":[
{"vconcat":[
{"hconcat":[
{"width":1,"height":1,"view":{"stroke":null},"data":{"values":[{"v":0}]},"mark":{"type":"point","opacity":0},"encoding":{}},
{"hconcat":[
{"width":499,"height":234,"title":"Amplification","data":{"name":"A"},"resolve":{"axis":{"x":"independent","y":"independent"}},
"layer":[
{"encoding":{
"x":{"field":"x","type":"quantitative","scale":{"domain":[0,47.9],"nice":false,"zero":false},"axis":{"title":"Cycles","format":"d","values":[0,2,4,6,8,10,12,14,16,18,20,22,24,26,28,30,32,34,36,38,40,42,44,46],"labelExpr":"datum.value % 10 === 0 ? datum.label : ''","gridOpacity":{"condition":{"test":"datum.value % 10 === 0","value":1},"value":0},"tickSize":{"condition":{"test":"datum.value % 10 === 0","value":5},"value":3}}},
"y":{"field":"y","type":"quantitative","scale":{"domain":[-55,844],"nice":false,"zero":false},"axis":{"title":"RFU","titlePadding":14,"format":"d","values":[-40,-20,0,20,40,60,80,100,120,140,160,180,200,220,240,260,280,300,320,340,360,380,400,420,440,460,480,500,520,540,560,580,600,620,640,660,680,700,720,740,760,780,800,820,840],"labelExpr":"datum.value % 100 === 0 ? datum.label : ''","gridOpacity":{"condition":{"test":"datum.value % 100 === 0","value":1},"value":0},"tickSize":{"condition":{"test":"datum.value % 100 === 0","value":5},"value":3}}}},
"layer":[
{"transform":[{"filter":"datum.k === 's'"}],"mark":{"type":"line","interpolate":"monotone","clip":true,"color":"#2f9a3a","strokeWidth":1.6},"encoding":{"detail":{"field":"c"}}},
{"transform":[{"filter":"datum.k === 't'"}],"mark":{"type":"line","clip":true,"color":"#1d8b27","strokeWidth":2},"encoding":{}},
{"transform":[{"filter":"datum.k === 'W'"}],"mark":{"type":"text","clip":true,"font":"Liberation Sans","fontSize":195,"angle":-44,"color":"#d4d4d4","opacity":0.75},"encoding":{"text":{"field":"t"}}},
{"transform":[{"filter":"datum.k === 'R'"}],"mark":{"type":"rule","color":"#3f5f8e","strokeWidth":7},"encoding":{"y2":{"field":"y2"}}},
{"transform":[{"filter":"datum.k === 'T'"}],"mark":{"type":"point","shape":"triangle-down","filled":true,"color":"#3f5f8e","size":280,"opacity":1},"encoding":{}},
{"transform":[{"filter":"datum.k === 'L'"}],"mark":{"type":"text","font":"Liberation Sans","fontSize":22,"color":"#111"},"encoding":{"text":{"field":"t"}}},
{"transform":[{"filter":"datum.k === 'S'"}],"mark":{"type":"text","font":"Liberation Serif","fontSize":20,"fontWeight":"bold","color":"#111"},"encoding":{"text":{"field":"t"}}}
]},
{"transform":[{"filter":"datum.k === 't'"}],"mark":{"type":"line","opacity":0},"encoding":{
"x":{"field":"x","type":"quantitative","scale":{"domain":[0,47.9],"nice":false,"zero":false},"axis":{"orient":"top","labels":false,"grid":false,"domain":false,"title":null,"minExtent":0,"maxExtent":0,"values":[0,2,4,6,8,10,12,14,16,18,20,22,24,26,28,30,32,34,36,38,40,42,44,46],"tickSize":-4}},
"y":{"field":"y","type":"quantitative","scale":{"domain":[-55,844],"nice":false,"zero":false},"axis":{"orient":"right","labels":false,"grid":false,"domain":false,"title":null,"minExtent":0,"maxExtent":0,"values":[-40,-20,0,20,40,60,80,100,120,140,160,180,200,220,240,260,280,300,320,340,360,380,400,420,440,460,480,500,520,540,560,580,600,620,640,660,680,700,720,740,760,780,800,820,840],"tickSize":-4}}}}
]},
{"width":494,"height":235,"title":"Amplification","data":{"name":"B"},"resolve":{"axis":{"x":"independent","y":"independent"}},
"layer":[
{"encoding":{
"x":{"field":"x","type":"quantitative","scale":{"domain":[0,48.3],"nice":false,"zero":false},"axis":{"title":null,"format":"d","values":[0,2,4,6,8,10,12,14,16,18,20,22,24,26,28,30,32,34,36,38,40,42,44,46,48],"labelExpr":"datum.value % 10 === 0 ? datum.label : ''","gridOpacity":{"condition":{"test":"datum.value % 10 === 0","value":1},"value":0},"tickSize":{"condition":{"test":"datum.value % 10 === 0","value":5},"value":3}}},
"y":{"field":"y","type":"quantitative","scale":{"domain":[-46,1099],"nice":false,"zero":false},"axis":{"title":"RFU","titlePadding":22,"format":"d","values":[0,50,100,150,200,250,300,350,400,450,500,550,600,650,700,750,800,850,900,950,1000,1050],"labelExpr":"datum.value % 200 === 0 ? datum.label : ''","gridOpacity":{"condition":{"test":"datum.value % 200 === 0","value":1},"value":0},"tickSize":{"condition":{"test":"datum.value % 200 === 0","value":5},"value":3}}}},
"layer":[
{"transform":[{"filter":"datum.k === 's'"}],"mark":{"type":"line","interpolate":"monotone","clip":true,"color":"#3aa144","strokeWidth":1.2},"encoding":{"detail":{"field":"c"}}},
{"transform":[{"filter":"datum.k === 't'"}],"mark":{"type":"line","clip":true,"color":"#1d8b27","strokeWidth":2},"encoding":{}},
{"transform":[{"filter":"datum.k === 'W'"}],"mark":{"type":"text","clip":true,"font":"Liberation Sans","fontSize":195,"angle":-44,"color":"#d4d4d4","opacity":0.75},"encoding":{"text":{"field":"t"}}},
{"transform":[{"filter":"datum.k === 'R'"}],"mark":{"type":"rule","color":"#3f5f8e","strokeWidth":7},"encoding":{"y2":{"field":"y2"}}},
{"transform":[{"filter":"datum.k === 'T'"}],"mark":{"type":"point","shape":"triangle-down","filled":true,"color":"#3f5f8e","size":280,"opacity":1},"encoding":{}},
{"transform":[{"filter":"datum.k === 'L'"}],"mark":{"type":"text","font":"Liberation Sans","fontSize":22,"color":"#111"},"encoding":{"text":{"field":"t"}}},
{"transform":[{"filter":"datum.k === 'S'"}],"mark":{"type":"text","font":"Liberation Serif","fontSize":20,"fontWeight":"bold","color":"#111"},"encoding":{"text":{"field":"t"}}}
]},
{"transform":[{"filter":"datum.k === 't'"}],"mark":{"type":"line","opacity":0},"encoding":{
"x":{"field":"x","type":"quantitative","scale":{"domain":[0,48.3],"nice":false,"zero":false},"axis":{"orient":"top","labels":false,"grid":false,"domain":false,"title":null,"minExtent":0,"maxExtent":0,"values":[0,2,4,6,8,10,12,14,16,18,20,22,24,26,28,30,32,34,36,38,40,42,44,46,48],"tickSize":-4}},
"y":{"field":"y","type":"quantitative","scale":{"domain":[-46,1099],"nice":false,"zero":false},"axis":{"orient":"right","labels":false,"grid":false,"domain":false,"title":null,"minExtent":0,"maxExtent":0,"values":[0,50,100,150,200,250,300,350,400,450,500,550,600,650,700,750,800,850,900,950,1000,1050],"tickSize":-4}}}}
]}
],"spacing":21}
],"spacing":13},
{"hconcat":[
{"width":1,"height":1,"view":{"stroke":null},"data":{"values":[{"v":0}]},"mark":{"type":"point","opacity":0},"encoding":{}},
{"hconcat":[
{"width":492,"height":217,"title":"Amplification","data":{"name":"C"},"resolve":{"axis":{"x":"independent","y":"independent"}},
"layer":[
{"encoding":{
"x":{"field":"x","type":"quantitative","scale":{"domain":[0,47.9],"nice":false,"zero":false},"axis":{"title":"Cycles","format":"d","values":[0,2,4,6,8,10,12,14,16,18,20,22,24,26,28,30,32,34,36,38,40,42,44,46],"labelExpr":"datum.value % 10 === 0 ? datum.label : ''","gridOpacity":{"condition":{"test":"datum.value % 10 === 0","value":1},"value":0},"tickSize":{"condition":{"test":"datum.value % 10 === 0","value":5},"value":3}}},
"y":{"field":"y","type":"quantitative","scale":{"domain":[-57,1140],"nice":false,"zero":false},"axis":{"title":"RFU","titlePadding":24,"format":"d","values":[-50,0,50,100,150,200,250,300,350,400,450,500,550,600,650,700,750,800,850,900,950,1000,1050,1100],"labelExpr":"datum.value % 200 === 0 ? datum.label : ''","gridOpacity":{"condition":{"test":"datum.value % 200 === 0","value":1},"value":0},"tickSize":{"condition":{"test":"datum.value % 200 === 0","value":5},"value":3}}}},
"layer":[
{"transform":[{"filter":"datum.k === 's'"}],"mark":{"type":"line","interpolate":"monotone","clip":true,"color":"#3aa144","strokeWidth":1.2},"encoding":{"detail":{"field":"c"}}},
{"transform":[{"filter":"datum.k === 't'"}],"mark":{"type":"line","clip":true,"color":"#1d8b27","strokeWidth":2},"encoding":{}},
{"transform":[{"filter":"datum.k === 'W'"}],"mark":{"type":"text","clip":true,"font":"Liberation Sans","fontSize":195,"angle":-44,"color":"#d4d4d4","opacity":0.75},"encoding":{"text":{"field":"t"}}},
{"transform":[{"filter":"datum.k === 'R'"}],"mark":{"type":"rule","color":"#3f5f8e","strokeWidth":7},"encoding":{"y2":{"field":"y2"}}},
{"transform":[{"filter":"datum.k === 'T'"}],"mark":{"type":"point","shape":"triangle-down","filled":true,"color":"#3f5f8e","size":280,"opacity":1},"encoding":{}},
{"transform":[{"filter":"datum.k === 'L'"}],"mark":{"type":"text","font":"Liberation Sans","fontSize":22,"color":"#111"},"encoding":{"text":{"field":"t"}}},
{"transform":[{"filter":"datum.k === 'S'"}],"mark":{"type":"text","font":"Liberation Serif","fontSize":20,"fontWeight":"bold","color":"#111"},"encoding":{"text":{"field":"t"}}}
]},
{"transform":[{"filter":"datum.k === 't'"}],"mark":{"type":"line","opacity":0},"encoding":{
"x":{"field":"x","type":"quantitative","scale":{"domain":[0,47.9],"nice":false,"zero":false},"axis":{"orient":"top","labels":false,"grid":false,"domain":false,"title":null,"minExtent":0,"maxExtent":0,"values":[0,2,4,6,8,10,12,14,16,18,20,22,24,26,28,30,32,34,36,38,40,42,44,46],"tickSize":-4}},
"y":{"field":"y","type":"quantitative","scale":{"domain":[-57,1140],"nice":false,"zero":false},"axis":{"orient":"right","labels":false,"grid":false,"domain":false,"title":null,"minExtent":0,"maxExtent":0,"values":[-50,0,50,100,150,200,250,300,350,400,450,500,550,600,650,700,750,800,850,900,950,1000,1050,1100],"tickSize":-4}}}}
]},
{"width":480,"height":216,"title":"Amplification","data":{"name":"D"},"resolve":{"axis":{"x":"independent","y":"independent"}},
"layer":[
{"encoding":{
"x":{"field":"x","type":"quantitative","scale":{"domain":[0,48.3],"nice":false,"zero":false},"axis":{"title":"Cycles","format":"d","values":[0,2,4,6,8,10,12,14,16,18,20,22,24,26,28,30,32,34,36,38,40,42,44,46,48],"labelExpr":"datum.value % 10 === 0 ? datum.label : ''","gridOpacity":{"condition":{"test":"datum.value % 10 === 0","value":1},"value":0},"tickSize":{"condition":{"test":"datum.value % 10 === 0","value":5},"value":3}}},
"y":{"field":"y","type":"quantitative","scale":{"domain":[-55,981],"nice":false,"zero":false},"axis":{"title":"RFU","titlePadding":21,"format":"d","values":[-40,-20,0,20,40,60,80,100,120,140,160,180,200,220,240,260,280,300,320,340,360,380,400,420,440,460,480,500,520,540,560,580,600,620,640,660,680,700,720,740,760,780,800,820,840,860,880,900,920,940,960,980],"labelExpr":"datum.value % 100 === 0 ? datum.label : ''","gridOpacity":{"condition":{"test":"datum.value % 100 === 0","value":1},"value":0},"tickSize":{"condition":{"test":"datum.value % 100 === 0","value":5},"value":3}}}},
"layer":[
{"transform":[{"filter":"datum.k === 's'"}],"mark":{"type":"line","interpolate":"monotone","clip":true,"color":"#3aa144","strokeWidth":1.2},"encoding":{"detail":{"field":"c"}}},
{"transform":[{"filter":"datum.k === 't'"}],"mark":{"type":"line","clip":true,"color":"#1d8b27","strokeWidth":2},"encoding":{}},
{"transform":[{"filter":"datum.k === 'W'"}],"mark":{"type":"text","clip":true,"font":"Liberation Sans","fontSize":195,"angle":-44,"color":"#d4d4d4","opacity":0.75},"encoding":{"text":{"field":"t"}}},
{"transform":[{"filter":"datum.k === 'R'"}],"mark":{"type":"rule","color":"#3f5f8e","strokeWidth":7},"encoding":{"y2":{"field":"y2"}}},
{"transform":[{"filter":"datum.k === 'T'"}],"mark":{"type":"point","shape":"triangle-down","filled":true,"color":"#3f5f8e","size":280,"opacity":1},"encoding":{}},
{"transform":[{"filter":"datum.k === 'L'"}],"mark":{"type":"text","font":"Liberation Sans","fontSize":22,"color":"#111"},"encoding":{"text":{"field":"t"}}},
{"transform":[{"filter":"datum.k === 'S'"}],"mark":{"type":"text","font":"Liberation Serif","fontSize":20,"fontWeight":"bold","color":"#111"},"encoding":{"text":{"field":"t"}}}
]},
{"transform":[{"filter":"datum.k === 't'"}],"mark":{"type":"line","opacity":0},"encoding":{
"x":{"field":"x","type":"quantitative","scale":{"domain":[0,48.3],"nice":false,"zero":false},"axis":{"orient":"top","labels":false,"grid":false,"domain":false,"title":null,"minExtent":0,"maxExtent":0,"values":[0,2,4,6,8,10,12,14,16,18,20,22,24,26,28,30,32,34,36,38,40,42,44,46,48],"tickSize":-4}},
"y":{"field":"y","type":"quantitative","scale":{"domain":[-55,981],"nice":false,"zero":false},"axis":{"orient":"right","labels":false,"grid":false,"domain":false,"title":null,"minExtent":0,"maxExtent":0,"values":[-40,-20,0,20,40,60,80,100,120,140,160,180,200,220,240,260,280,300,320,340,360,380,400,420,440,460,480,500,520,540,560,580,600,620,640,660,680,700,720,740,760,780,800,820,840,860,880,900,920,940,960,980],"tickSize":-4}}}}
]}
],"spacing":35}
],"spacing":11}
],"spacing":21},
{"hconcat":[
{"width":1,"height":1,"view":{"stroke":null},"data":{"values":[{"v":0}]},"mark":{"type":"point","opacity":0},"encoding":{}},
{"hconcat":[
{"vconcat":[
{"width":1,"height":1,"view":{"stroke":null},"data":{"values":[{"v":0}]},"mark":{"type":"point","opacity":0},"encoding":{}},
{"width":483,"height":211,"title":"Amplification","data":{"name":"E"},"resolve":{"axis":{"x":"independent","y":"independent"}},
"layer":[
{"encoding":{
"x":{"field":"x","type":"quantitative","scale":{"domain":[0,48.1],"nice":false,"zero":false},"axis":{"title":"Cycles","format":"d","values":[0,2,4,6,8,10,12,14,16,18,20,22,24,26,28,30,32,34,36,38,40,42,44,46,48],"labelExpr":"datum.value % 10 === 0 ? datum.label : ''","gridOpacity":{"condition":{"test":"datum.value % 10 === 0","value":1},"value":0},"tickSize":{"condition":{"test":"datum.value % 10 === 0","value":5},"value":3}}},
"y":{"field":"y","type":"quantitative","scale":{"domain":[-54,926],"nice":false,"zero":false},"axis":{"title":"RFU","titlePadding":12,"format":"d","values":[-40,-20,0,20,40,60,80,100,120,140,160,180,200,220,240,260,280,300,320,340,360,380,400,420,440,460,480,500,520,540,560,580,600,620,640,660,680,700,720,740,760,780,800,820,840,860,880,900,920],"labelExpr":"datum.value % 100 === 0 ? datum.label : ''","gridOpacity":{"condition":{"test":"datum.value % 100 === 0","value":1},"value":0},"tickSize":{"condition":{"test":"datum.value % 100 === 0","value":5},"value":3}}}},
"layer":[
{"transform":[{"filter":"datum.k === 's'"}],"mark":{"type":"line","interpolate":"monotone","clip":true,"color":"#3aa144","strokeWidth":1.2},"encoding":{"detail":{"field":"c"}}},
{"transform":[{"filter":"datum.k === 't'"}],"mark":{"type":"line","clip":true,"color":"#1d8b27","strokeWidth":2},"encoding":{}},
{"transform":[{"filter":"datum.k === 'W'"}],"mark":{"type":"text","clip":true,"font":"Liberation Sans","fontSize":195,"angle":-44,"color":"#d4d4d4","opacity":0.75},"encoding":{"text":{"field":"t"}}},
{"transform":[{"filter":"datum.k === 'R'"}],"mark":{"type":"rule","color":"#3f5f8e","strokeWidth":7},"encoding":{"y2":{"field":"y2"}}},
{"transform":[{"filter":"datum.k === 'T'"}],"mark":{"type":"point","shape":"triangle-down","filled":true,"color":"#3f5f8e","size":280,"opacity":1},"encoding":{}},
{"transform":[{"filter":"datum.k === 'L'"}],"mark":{"type":"text","font":"Liberation Sans","fontSize":22,"color":"#111"},"encoding":{"text":{"field":"t"}}},
{"transform":[{"filter":"datum.k === 'S'"}],"mark":{"type":"text","font":"Liberation Serif","fontSize":20,"fontWeight":"bold","color":"#111"},"encoding":{"text":{"field":"t"}}}
]},
{"transform":[{"filter":"datum.k === 't'"}],"mark":{"type":"line","opacity":0},"encoding":{
"x":{"field":"x","type":"quantitative","scale":{"domain":[0,48.1],"nice":false,"zero":false},"axis":{"orient":"top","labels":false,"grid":false,"domain":false,"title":null,"minExtent":0,"maxExtent":0,"values":[0,2,4,6,8,10,12,14,16,18,20,22,24,26,28,30,32,34,36,38,40,42,44,46,48],"tickSize":-4}},
"y":{"field":"y","type":"quantitative","scale":{"domain":[-54,926],"nice":false,"zero":false},"axis":{"orient":"right","labels":false,"grid":false,"domain":false,"title":null,"minExtent":0,"maxExtent":0,"values":[-40,-20,0,20,40,60,80,100,120,140,160,180,200,220,240,260,280,300,320,340,360,380,400,420,440,460,480,500,520,540,560,580,600,620,640,660,680,700,720,740,760,780,800,820,840,860,880,900,920],"tickSize":-4}}}}
]}
],"spacing":0},
{"vconcat":[
{"width":1,"height":14,"view":{"stroke":null},"data":{"values":[{"v":0}]},"mark":{"type":"point","opacity":0},"encoding":{}},
{"width":477,"height":205,"title":"Amplification","data":{"name":"F"},"resolve":{"axis":{"x":"independent","y":"independent"}},
"layer":[
{"encoding":{
"x":{"field":"x","type":"quantitative","scale":{"domain":[0,48.4],"nice":false,"zero":false},"axis":{"title":"Cycles","format":"d","values":[0,2,4,6,8,10,12,14,16,18,20,22,24,26,28,30,32,34,36,38,40,42,44,46,48],"labelExpr":"datum.value % 10 === 0 ? datum.label : ''","gridOpacity":{"condition":{"test":"datum.value % 10 === 0","value":1},"value":0},"tickSize":{"condition":{"test":"datum.value % 10 === 0","value":5},"value":3}}},
"y":{"field":"y","type":"quantitative","scale":{"domain":[-32,1062],"nice":false,"zero":false},"axis":{"title":"RFU","titlePadding":19,"format":"d","values":[0,50,100,150,200,250,300,350,400,450,500,550,600,650,700,750,800,850,900,950,1000,1050],"labelExpr":"datum.value % 200 === 0 ? datum.label : ''","gridOpacity":{"condition":{"test":"datum.value % 200 === 0","value":1},"value":0},"tickSize":{"condition":{"test":"datum.value % 200 === 0","value":5},"value":3}}}},
"layer":[
{"transform":[{"filter":"datum.k === 's'"}],"mark":{"type":"line","interpolate":"monotone","clip":true,"color":"#3aa144","strokeWidth":1.2},"encoding":{"detail":{"field":"c"}}},
{"transform":[{"filter":"datum.k === 't'"}],"mark":{"type":"line","clip":true,"color":"#1d8b27","strokeWidth":2},"encoding":{}},
{"transform":[{"filter":"datum.k === 'W'"}],"mark":{"type":"text","clip":true,"font":"Liberation Sans","fontSize":195,"angle":-44,"color":"#d4d4d4","opacity":0.75},"encoding":{"text":{"field":"t"}}},
{"transform":[{"filter":"datum.k === 'R'"}],"mark":{"type":"rule","color":"#3f5f8e","strokeWidth":7},"encoding":{"y2":{"field":"y2"}}},
{"transform":[{"filter":"datum.k === 'T'"}],"mark":{"type":"point","shape":"triangle-down","filled":true,"color":"#3f5f8e","size":280,"opacity":1},"encoding":{}},
{"transform":[{"filter":"datum.k === 'L'"}],"mark":{"type":"text","font":"Liberation Sans","fontSize":22,"color":"#111"},"encoding":{"text":{"field":"t"}}},
{"transform":[{"filter":"datum.k === 'S'"}],"mark":{"type":"text","font":"Liberation Serif","fontSize":20,"fontWeight":"bold","color":"#111"},"encoding":{"text":{"field":"t"}}}
]},
{"transform":[{"filter":"datum.k === 't'"}],"mark":{"type":"line","opacity":0},"encoding":{
"x":{"field":"x","type":"quantitative","scale":{"domain":[0,48.4],"nice":false,"zero":false},"axis":{"orient":"top","labels":false,"grid":false,"domain":false,"title":null,"minExtent":0,"maxExtent":0,"values":[0,2,4,6,8,10,12,14,16,18,20,22,24,26,28,30,32,34,36,38,40,42,44,46,48],"tickSize":-4}},
"y":{"field":"y","type":"quantitative","scale":{"domain":[-32,1062],"nice":false,"zero":false},"axis":{"orient":"right","labels":false,"grid":false,"domain":false,"title":null,"minExtent":0,"maxExtent":0,"values":[0,50,100,150,200,250,300,350,400,450,500,550,600,650,700,750,800,850,900,950,1000,1050],"tickSize":-4}}}}
]}
],"spacing":0}
],"spacing":31}
],"spacing":40}
],"spacing":9},
{"hconcat":[
{"width":291,"height":270,"view":{"stroke":null},"data":{"name":"H"},"transform":[{"filter":"datum.k === 'W'"}],
"mark":{"type":"text","clip":true,"font":"Liberation Sans","fontSize":195,"angle":-44,"color":"#d4d4d4","opacity":0.75},
"encoding":{"x":{"field":"x","type":"quantitative","scale":{"domain":[-35.32,-7.69],"nice":false,"zero":false},"axis":null},"y":{"field":"y","type":"quantitative","scale":{"domain":[-561,2710],"nice":false,"zero":false},"axis":null},"text":{"field":"t"}}},
{"width":554,"height":233,"title":"Amplification","data":{"name":"H"},"resolve":{"axis":{"x":"independent","y":"independent"}},
"layer":[
{"encoding":{
"x":{"field":"x","type":"quantitative","scale":{"domain":[0,52.6],"nice":false,"zero":false},"axis":{"title":"Cycles","format":"d","values":[0,2,4,6,8,10,12,14,16,18,20,22,24,26,28,30,32,34,36,38,40,42,44,46,48,50,52],"labelExpr":"datum.value % 10 === 0 ? datum.label : ''","gridOpacity":{"condition":{"test":"datum.value % 10 === 0","value":1},"value":0},"tickSize":{"condition":{"test":"datum.value % 10 === 0","value":5},"value":3}}},
"y":{"field":"y","type":"quantitative","scale":{"domain":[-113,2710],"nice":false,"zero":false},"axis":{"title":"RFU","titlePadding":32,"format":"d","values":[-100,0,100,200,300,400,500,600,700,800,900,1000,1100,1200,1300,1400,1500,1600,1700,1800,1900,2000,2100,2200,2300,2400,2500,2600,2700],"labelExpr":"datum.value % 500 === 0 ? datum.label : ''","gridOpacity":{"condition":{"test":"datum.value % 500 === 0","value":1},"value":0},"tickSize":{"condition":{"test":"datum.value % 500 === 0","value":5},"value":3}}}},
"layer":[
{"transform":[{"filter":"datum.k === 's'"}],"mark":{"type":"line","interpolate":"monotone","clip":true,"color":"#2f9a3a","strokeWidth":1},"encoding":{"detail":{"field":"c"}}},
{"transform":[{"filter":"datum.k === 't'"}],"mark":{"type":"line","clip":true,"color":"#1d8b27","strokeWidth":2},"encoding":{}},
{"transform":[{"filter":"datum.k === 'W'"}],"mark":{"type":"text","clip":true,"font":"Liberation Sans","fontSize":195,"angle":-44,"color":"#d4d4d4","opacity":0.75},"encoding":{"text":{"field":"t"}}},
{"transform":[{"filter":"datum.k === 'R'"}],"mark":{"type":"rule","color":"#3f5f8e","strokeWidth":7},"encoding":{"y2":{"field":"y2"}}},
{"transform":[{"filter":"datum.k === 'T'"}],"mark":{"type":"point","shape":"triangle-down","filled":true,"color":"#3f5f8e","size":280,"opacity":1},"encoding":{}},
{"transform":[{"filter":"datum.k === 'L'"}],"mark":{"type":"text","font":"Liberation Sans","fontSize":22,"color":"#111"},"encoding":{"text":{"field":"t"}}},
{"transform":[{"filter":"datum.k === 'S'"}],"mark":{"type":"text","font":"Liberation Serif","fontSize":20,"fontWeight":"bold","color":"#111"},"encoding":{"text":{"field":"t"}}}
]},
{"transform":[{"filter":"datum.k === 't'"}],"mark":{"type":"line","opacity":0},"encoding":{
"x":{"field":"x","type":"quantitative","scale":{"domain":[0,52.6],"nice":false,"zero":false},"axis":{"orient":"top","labels":false,"grid":false,"domain":false,"title":null,"minExtent":0,"maxExtent":0,"values":[0,2,4,6,8,10,12,14,16,18,20,22,24,26,28,30,32,34,36,38,40,42,44,46,48,50,52],"tickSize":-4}},
"y":{"field":"y","type":"quantitative","scale":{"domain":[-113,2710],"nice":false,"zero":false},"axis":{"orient":"right","labels":false,"grid":false,"domain":false,"title":null,"minExtent":0,"maxExtent":0,"values":[-100,0,100,200,300,400,500,600,700,800,900,1000,1100,1200,1300,1400,1500,1600,1700,1800,1900,2000,2100,2200,2300,2400,2500,2600,2700],"tickSize":-4}}}}
]}
],"spacing":5}
],
"spacing":15
}
